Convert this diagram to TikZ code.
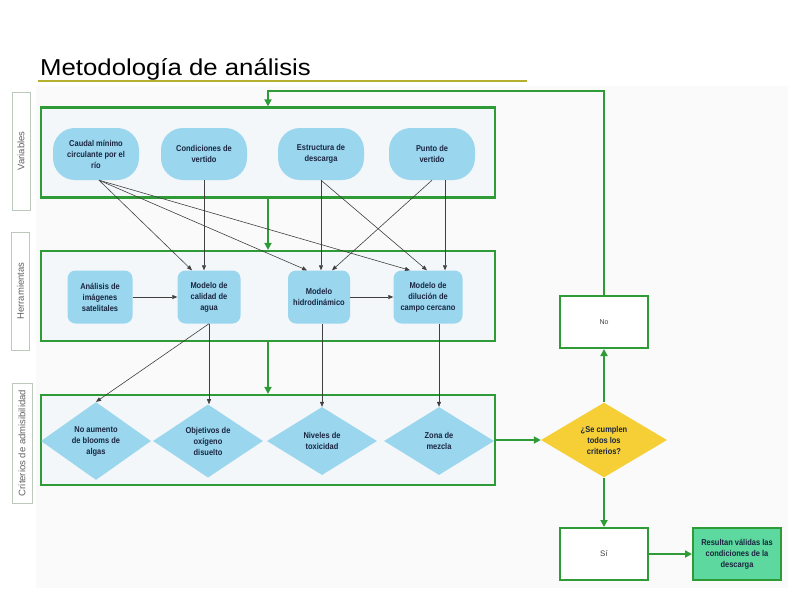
\documentclass[tikz,border=0pt]{standalone}
\usepackage{fontspec}
\setmainfont{Liberation Sans}
\newfontfamily\titulofont[FakeStretch=1.12]{Liberation Sans}
\newfontfamily\nodofont[FakeStretch=0.88]{Liberation Sans}
\usepackage{xcolor}
\usetikzlibrary{arrows.meta, positioning, shapes.geometric, calc}

\definecolor{verde}{HTML}{2E9B36}
\definecolor{celeste}{HTML}{9AD6EE}
\definecolor{panelfondo}{HTML}{F3F7F9}
\definecolor{amarillo}{HTML}{F5CF35}
\definecolor{menta}{HTML}{5DD89E}
\definecolor{textonodo}{HTML}{1A2540}
\definecolor{oliva}{HTML}{B5AF2E}

\begin{document}
\begin{tikzpicture}[
    x=1pt, y=-1pt,
    font=\nodofont\fontsize{8.5}{11}\selectfont\bfseries,
    panel/.style={draw=verde, line width=2.2pt, fill=panelfondo, minimum width=454pt, minimum height=90pt},
    etiqueta/.style={draw=verde!25!gray!45, line width=0.8pt, fill=white, rotate=90, minimum width=118pt, minimum height=18pt, inner sep=0pt, text=gray!75!black, font=\rmfamily\fontsize{9.5}{11}\selectfont},
    varnodo/.style={fill=celeste, rounded corners=22pt, minimum width=86pt, minimum height=52pt, align=center, text=textonodo, inner sep=2pt},
    herrnodo/.style={fill=celeste, rounded corners=8pt, minimum height=53pt, align=center, text=textonodo, inner sep=2pt},
    critnodo/.style={diamond, fill=celeste, minimum width=110pt, minimum height=68pt, inner sep=0pt, align=center, text=textonodo},
    caja/.style={draw=verde, line width=2pt, fill=white, minimum width=88pt, minimum height=52pt, align=center, font=\rmfamily\fontsize{8}{11}\selectfont, text=black!75},
    flujo/.style={draw=verde, line width=2pt, -{Triangle[length=7pt,width=7pt]}},
    liga/.style={draw=black!75, line width=0.6pt, -{Triangle[length=5pt,width=4pt]}}
]
    \useasboundingbox (0,0) rectangle (794,595);
    \fill[black!2] (36,86) rectangle (788,588);

    \node[anchor=base west, inner sep=0pt, font=\titulofont\fontsize{23}{26}\selectfont] (titulo) at (40,75) {Metodología de análisis};
    \draw[oliva, line width=2.5pt] (38,81) -- (527,81);

    \node[etiqueta] (lblvar) at (21,151) {Variables};
    \node[etiqueta] (lblherr) at (20.5,291) {Herramientas};
    \node[etiqueta, minimum width=120pt, minimum height=20pt] (lblcrit) at (22,443) {Criterios de admisibilidad};

    \node[panel] (pvar) at (268,152.5) {};
    \node[panel] (pherr) at (268,296) {};
    \node[panel] (pcrit) at (268,440) {};

    \node[varnodo] (v1) at (96,154) {Caudal mínimo\\circulante por el\\río};
    \node[varnodo] (v2) at (204,154) {Condiciones de\\vertido};
    \node[varnodo] (v3) at (321,154) {Estructura de\\descarga};
    \node[varnodo] (v4) at (432,154) {Punto de\\vertido};

    \node[herrnodo, minimum width=65pt] (h1) at (100,297) {Análisis de\\imágenes\\satelitales};
    \node[herrnodo, minimum width=63pt] (h2) at (209,297) {Modelo de\\calidad de\\agua};
    \node[herrnodo, minimum width=62pt] (h3) at (319,297) {Modelo\\hidrodinámico};
    \node[herrnodo, minimum width=69pt] (h4) at (428,297) {Modelo de\\dilución de\\campo cercano};

    \node[critnodo] (c1) at (96,441) {No aumento\\de blooms de\\algas};
    \node[critnodo] (c2) at (208,441) {Objetivos de\\oxígeno\\disuelto};
    \node[critnodo] (c3) at (322,441) {Niveles de\\toxicidad};
    \node[critnodo] (c4) at (439,441) {Zona de\\mezcla};

    \node[caja, font=\rmfamily\fontsize{7}{9}\selectfont] (no) at (604,322) {No};
    \node[diamond, fill=amarillo, minimum width=126pt, minimum height=74pt, inner sep=0pt, align=center, text=textonodo] (decision) at (604,440) {¿Se cumplen\\todos los\\criterios?};
    \node[caja] (si) at (604,554) {Sí};
    \node[caja, fill=menta, text=textonodo, font=\nodofont\fontsize{8.5}{11}\selectfont\bfseries] (resultado) at (737,554) {Resultan válidas las\\condiciones de la\\descarga};

    \coordinate (retorno) at (268,91);
    \draw[flujo] (no.north) |- (retorno) -- (pvar.north);
    \draw[flujo] (pvar.south) -- (pherr.north);
    \draw[flujo] (pherr.south) -- (pcrit.north);
    \draw[flujo] (pcrit.east) -- (decision.west);
    \draw[flujo] (decision.north) -- (no.south);
    \draw[flujo] (decision.south) -- (si.north);
    \draw[flujo] (si.east) -- (resultado.west);

    \draw[liga] ([xshift=3pt]v1.south) -- ([xshift=-17pt]h2.north);
    \draw[liga] ([xshift=3pt]v1.south) -- ([xshift=-12pt]h3.north);
    \draw[liga] ([xshift=3pt]v1.south) -- ([xshift=-18pt]h4.north);
    \draw[liga] (v2.south) -- (v2.south |- h2.north);
    \draw[liga] (v3.south) -- (v3.south |- h3.north);
    \draw[liga] (v3.south) -- ([xshift=-1pt]h4.north);
    \draw[liga] (v4.south) -- ([xshift=13pt]h3.north);
    \draw[liga] ([xshift=13pt]v4.south) -- ([xshift=13pt]v4.south |- h4.north);
    \draw[liga] (h1.east) -- (h2.west);
    \draw[liga] (h3.east) -- (h4.west);
    \draw[liga] (h2.south) -- (c1.north);
    \draw[liga] (h2.south) -- (h2.south |- c2.north);
    \draw[liga] (c3.north |- h3.south) -- (c3.north);
    \draw[liga] (c4.north |- h4.south) -- (c4.north);
\end{tikzpicture}
\end{document}
